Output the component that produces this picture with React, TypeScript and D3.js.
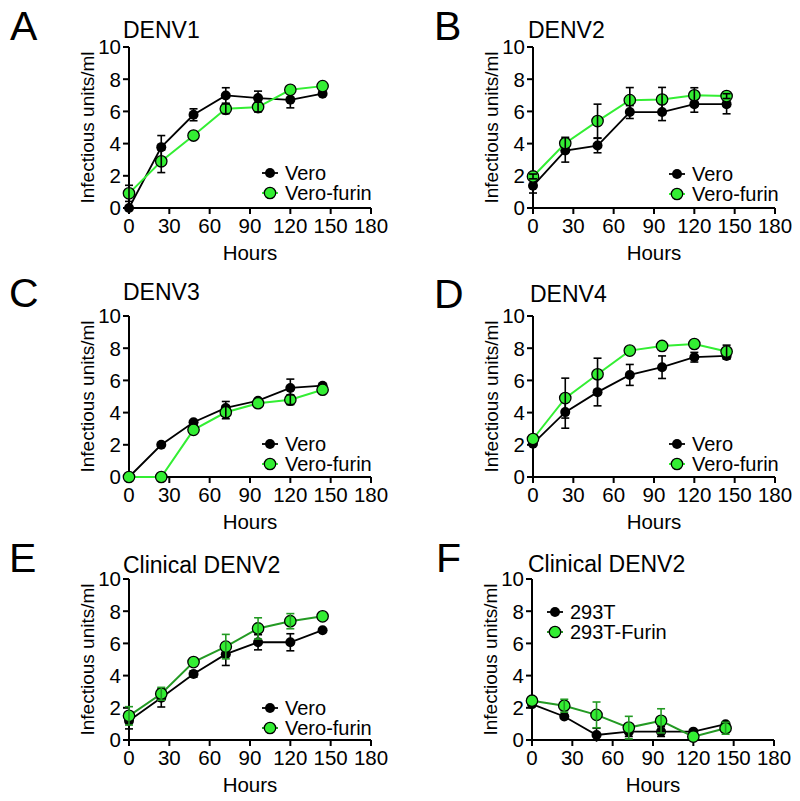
import React from "react";
import * as d3 from "d3";

const HOURS = [0, 24, 48, 72, 96, 120, 144];
const X_TICKS = [0, 30, 60, 90, 120, 150, 180];
const Y_TICKS = [0, 2, 4, 6, 8, 10];

const aVero = [0, 3.78, 5.79, 6.99, 6.83, 6.72, 7.1];
const aVeroErr = [0, 0.72, 0.37, 0.48, 0.43, 0.5, 0.1];
const aFurin = [0.91, 2.9, 4.5, 6.16, 6.27, 7.34, 7.57];
const aFurinErr = [0.5, 0.7, 0, 0.3, 0.3, 0, 0];

const bVero = [1.38, 3.57, 3.88, 5.96, 5.96, 6.45, 6.45];
const bVeroErr = [0.45, 0.72, 0.45, 0.4, 0.53, 0.5, 0.6];
const bFurin = [1.96, 4.02, 5.4, 6.7, 6.74, 7.0, 6.95];
const bFurinErr = [0.15, 0.37, 1.05, 0.78, 0.75, 0.47, 0.15];

const cVero = [0, 2.0, 3.4, 4.29, 4.74, 5.53, 5.67];
const cVeroErr = [0, 0, 0, 0.4, 0, 0.55, 0];
const cFurin = [0, 0, 2.93, 4.02, 4.58, 4.8, 5.42];
const cFurinErr = [0, 0, 0, 0.4, 0, 0.3, 0];

const dVero = [2.07, 4.03, 5.27, 6.34, 6.82, 7.44, 7.52];
const dVeroErr = [0, 1.0, 0.85, 0.65, 0.7, 0.3, 0.2];
const dFurin = [2.36, 4.9, 6.38, 7.85, 8.14, 8.26, 7.79];
const dFurinErr = [0, 1.24, 1.0, 0, 0, 0, 0.4];

const eVero = [1.19, 2.62, 4.1, 5.33, 6.07, 6.07, 6.82];
const eVeroErr = [0.5, 0.57, 0.2, 0.7, 0.47, 0.53, 0];
const eFurin = [1.5, 2.87, 4.84, 5.8, 6.93, 7.38, 7.68];
const eFurinErr = [0.57, 0.4, 0, 0.76, 0.66, 0.47, 0];

const fCtrl = [2.23, 1.46, 0.31, 0.52, 0.52, 0.52, 0.98];
const fCtrlErr = [0, 0, 0.42, 0.3, 0.3, 0, 0];
const fFurin = [2.44, 2.13, 1.56, 0.77, 1.19, 0.21, 0.73];
const fFurinErr = [0, 0.4, 0.8, 0.7, 0.75, 0, 0.37];

const LEGEND_VERO = ["Vero", "Vero-furin"];
const LEGEND_293 = ["293T", "293T-Furin"];

const FONT = "'Liberation Sans', Arial, Helvetica, sans-serif";
const W = 242;
const H = 161;

const panels = [
  { letter: "A", title: "DENV1", ox: 129, oy: 47, lx: 10, tx: 123, letterY: 40, titleY: 38,
    a: aVero, ae: aVeroErr, b: aFurin, be: aFurinErr, names: LEGEND_VERO, legX: 141, legY: 126, dark: false },
  { letter: "B", title: "DENV2", ox: 533, oy: 47, lx: 434, tx: 528, letterY: 40, titleY: 38,
    a: bVero, ae: bVeroErr, b: bFurin, be: bFurinErr, names: LEGEND_VERO, legX: 144, legY: 127, dark: false },
  { letter: "C", title: "DENV3", ox: 129, oy: 316, lx: 9, tx: 123, letterY: 307, titleY: 300,
    a: cVero, ae: cVeroErr, b: cFurin, be: cFurinErr, names: LEGEND_VERO, legX: 141, legY: 128, dark: false },
  { letter: "D", title: "DENV4", ox: 533, oy: 316, lx: 434, tx: 530, letterY: 308, titleY: 302,
    a: dVero, ae: dVeroErr, b: dFurin, be: dFurinErr, names: LEGEND_VERO, legX: 144, legY: 128, dark: false },
  { letter: "E", title: "Clinical DENV2", ox: 129, oy: 579, lx: 9, tx: 123, letterY: 572, titleY: 573,
    a: eVero, ae: eVeroErr, b: eFurin, be: eFurinErr, names: LEGEND_VERO, legX: 141, legY: 129, dark: true },
  { letter: "F", title: "Clinical DENV2", ox: 532, oy: 579, lx: 436, tx: 528, letterY: 572, titleY: 572,
    a: fCtrl, ae: fCtrlErr, b: fFurin, be: fFurinErr, names: LEGEND_293, legX: 23, legY: 33, dark: true },
];

const LIME = "#33ee33";
const DARKGREEN = "#239a23";

function Panel({ p }: { p: any }) {
  const x = d3.scaleLinear().domain([0, 180]).range([0, W]);
  const y = d3.scaleLinear().domain([0, 10]).range([H, 0]);
  const line = d3.line<number>().x((_, i) => x(HOURS[i])).y((d) => y(d));
  const greenLine = p.dark ? DARKGREEN : LIME;
  const greenErr = p.dark ? DARKGREEN : "#000";
  const cap = 4;
  const errBars = (vals: number[], errs: number[], color: string) =>
    vals.map((v, i) =>
      errs[i] > 0 ? (
        <g key={i} stroke={color} strokeWidth={1.6}>
          <line x1={x(HOURS[i])} x2={x(HOURS[i])} y1={y(v - errs[i])} y2={y(v + errs[i])} />
          <line x1={x(HOURS[i]) - cap} x2={x(HOURS[i]) + cap} y1={y(v + errs[i])} y2={y(v + errs[i])} />
          <line x1={x(HOURS[i]) - cap} x2={x(HOURS[i]) + cap} y1={y(Math.max(0, v - errs[i]))} y2={y(Math.max(0, v - errs[i]))} />
        </g>
      ) : null
    );
  return (
    <g>
      <text x={p.lx} y={p.letterY} fontSize={41} fontFamily={FONT}>{p.letter}</text>
      <text x={p.tx} y={p.titleY} fontSize={23} fontFamily={FONT}>{p.title}</text>
      <g transform={`translate(${p.ox},${p.oy})`}>
        <line x1={0} x2={0} y1={0} y2={H} stroke="#000" strokeWidth={2} />
        <line x1={0} x2={W} y1={H} y2={H} stroke="#000" strokeWidth={2} />
        {Y_TICKS.map((t) => (
          <g key={"y" + t}>
            <line x1={-6} x2={0} y1={y(t)} y2={y(t)} stroke="#000" strokeWidth={2} />
            <text x={-8} y={y(t)} dy="0.36em" textAnchor="end" fontSize={20.5} fontFamily={FONT}>{t}</text>
          </g>
        ))}
        {X_TICKS.map((t) => (
          <g key={"x" + t}>
            <line x1={x(t)} x2={x(t)} y1={H} y2={H + 6} stroke="#000" strokeWidth={2} />
            <text x={x(t)} y={H + 25} textAnchor="middle" fontSize={20.5} fontFamily={FONT}>{t}</text>
          </g>
        ))}
        <text x={W / 2} y={H + 52} textAnchor="middle" fontSize={20.5} fontFamily={FONT}>Hours</text>
        <text transform={`translate(${-35},${H / 2}) rotate(-90)`} textAnchor="middle" fontSize={19} fontFamily={FONT}>
          Infectious units/ml
        </text>
        {errBars(p.a, p.ae, "#000")}
        <path d={line(p.a) || ""} fill="none" stroke="#000" strokeWidth={1.8} />
        {p.a.map((v: number, i: number) => (
          <circle key={i} cx={x(HOURS[i])} cy={y(v)} r={5} fill="#000" />
        ))}
        <path d={line(p.b) || ""} fill="none" stroke={greenLine} strokeWidth={2} />
        {p.b.map((v: number, i: number) => (
          <circle key={i} cx={x(HOURS[i])} cy={y(v)} r={5.7} fill={LIME} stroke="#000" strokeWidth={1.3} />
        ))}
        {errBars(p.b, p.be, greenErr)}
        <g transform={`translate(${p.legX},${p.legY})`}>
          <line x1={-8} x2={8} y1={0} y2={0} stroke="#000" strokeWidth={1.8} />
          <circle cx={0} cy={0} r={5} fill="#000" />
          <text x={15} y={0} dy="0.36em" fontSize={20} fontFamily={FONT}>{p.names[0]}</text>
          <line x1={-8} x2={8} y1={20} y2={20} stroke={greenLine} strokeWidth={2} />
          <circle cx={0} cy={20} r={5.7} fill={LIME} stroke="#000" strokeWidth={1.3} />
          <text x={15} y={20} dy="0.36em" fontSize={20} fontFamily={FONT}>{p.names[1]}</text>
        </g>
      </g>
    </g>
  );
}

export default function App() {
  return (
    <svg width={800} height={801} style={{ position: "absolute", left: 0, top: 0, background: "#fff" }}>
      <rect width={800} height={801} fill="#fff" />
      {panels.map((p) => (
        <Panel key={p.letter} p={p} />
      ))}
    </svg>
  );
}
